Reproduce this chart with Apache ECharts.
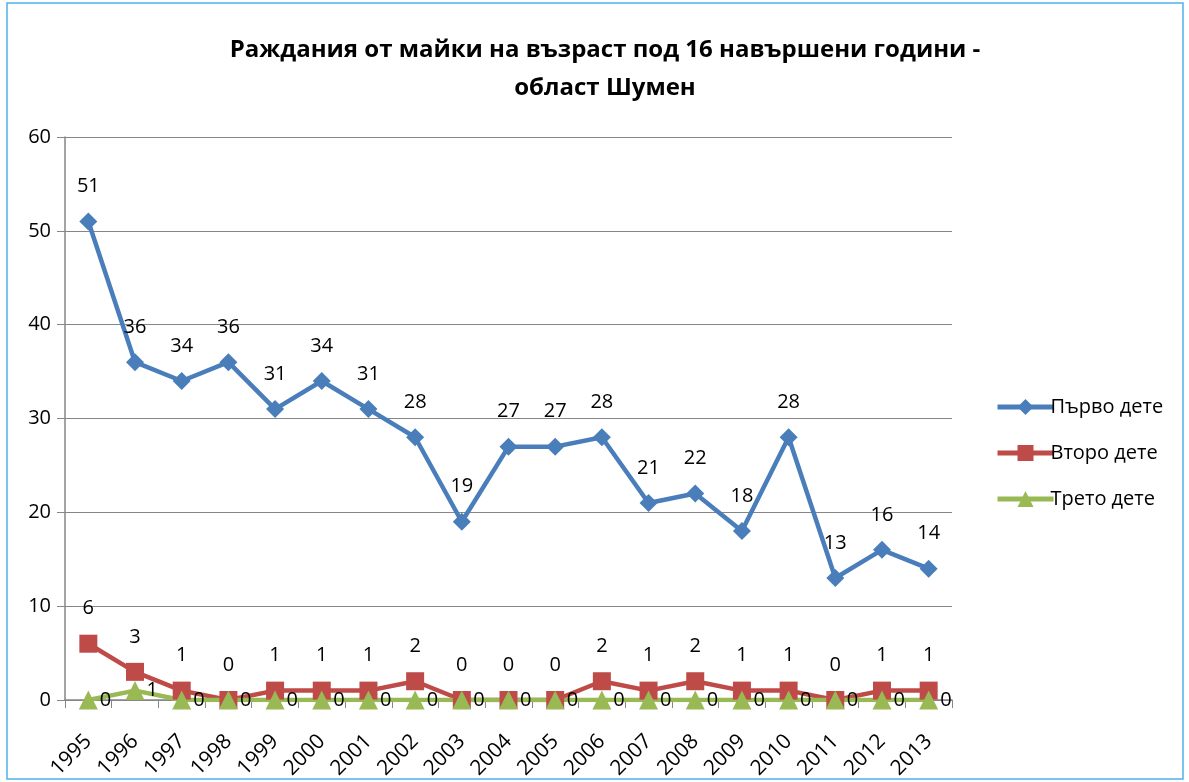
<!DOCTYPE html>
<html>
<head>
  <meta charset="utf-8">
  <title>Раждания от майки под 16</title>
  <script src="https://cdn.jsdelivr.net/npm/echarts@6/dist/echarts.min.js"></script>
</head>
<body style="margin:0">
  <div id="main" style="width:1189px;height:782px;"></div>
  <script type="text/javascript">
    var years = ['1995', '1996', '1997', '1998', '1999', '2000', '2001', '2002', '2003', '2004',
      '2005', '2006', '2007', '2008', '2009', '2010', '2011', '2012', '2013'];
    var first = [51, 36, 34, 36, 31, 34, 31, 28, 19, 27, 27, 28, 21, 22, 18, 28, 13, 16, 14];
    var second = [6, 3, 1, 0, 1, 1, 1, 2, 0, 0, 0, 2, 1, 2, 1, 1, 0, 1, 1];
    var third = [0, 1, 0, 0, 0, 0, 0, 0, 0, 0, 0, 0, 0, 0, 0, 0, 0, 0, 0];
    var names = ['Първо дете', 'Второ дете', 'Трето дете'];

    var font = '"Open Sans", "Noto Sans", sans-serif';
    var myChart = echarts.init(document.getElementById('main'));

    var option = {
      textStyle: { fontFamily: font },
      graphic: [{
        type: 'rect',
        shape: { x: 7, y: 3, width: 1176, height: 776 },
        style: { fill: 'none', stroke: '#4fb3e8', lineWidth: 1.5 }
      }],
      title: {
        text: 'Раждания от майки на възраст под 16 навършени години -\nобласт Шумен',
        left: 600,
        top: 26,
        textAlign: 'center',
        textStyle: { fontSize: 24, fontWeight: 'bold', color: '#000', lineHeight: 38, fontFamily: font }
      },
      legend: {
        orient: 'vertical',
        left: 990,
        top: 392,
        itemGap: 26,
        itemWidth: 56,
        itemHeight: 20,
        data: names,
        lineStyle: { width: 5 },
        textStyle: { fontSize: 20, color: '#000', fontFamily: font, padding: [0, 0, 0, -8] }
      },
      grid: { left: 65, right: 237, top: 137, bottom: 82, containLabel: false },
      xAxis: {
        type: 'category',
        data: years,
        boundaryGap: true,
        axisLine: { lineStyle: { color: '#868686', width: 1.5 } },
        axisTick: { show: true, alignWithLabel: false, length: 8, lineStyle: { color: '#868686' } },
        axisLabel: { rotate: 45, fontSize: 21, color: '#000', margin: 38, interval: 0 }
      },
      yAxis: {
        type: 'value',
        min: 0,
        max: 60,
        interval: 10,
        axisLine: { show: true, lineStyle: { color: '#868686', width: 1.5 } },
        axisTick: { show: true, length: 8, lineStyle: { color: '#868686' } },
        axisLabel: { fontSize: 20, color: '#000', margin: 14 },
        splitLine: { lineStyle: { color: '#868686', width: 1.2 } }
      },
      series: [
        {
          name: names[0],
          type: 'line',
          data: first,
          symbol: 'diamond',
          symbolSize: 18,
          lineStyle: { color: '#4a7ebb', width: 4.5 },
          itemStyle: { color: '#4a7ebb' },
          label: { show: true, position: 'top', distance: 16, fontSize: 20, color: '#000' }
        },
        {
          name: names[1],
          type: 'line',
          data: second,
          symbol: 'rect',
          symbolSize: 18,
          lineStyle: { color: '#be4b48', width: 4.5 },
          itemStyle: { color: '#be4b48' },
          label: { show: true, position: 'top', distance: 16, fontSize: 20, color: '#000' }
        },
        {
          name: names[2],
          type: 'line',
          data: third,
          symbol: 'triangle',
          symbolSize: 19,
          lineStyle: { color: '#98b954', width: 4.5 },
          itemStyle: { color: '#98b954' },
          label: { show: true, position: 'right', distance: 2, fontSize: 20, color: '#000' }
        }
      ]
    };

    myChart.setOption(option);
  </script>
</body>
</html>
